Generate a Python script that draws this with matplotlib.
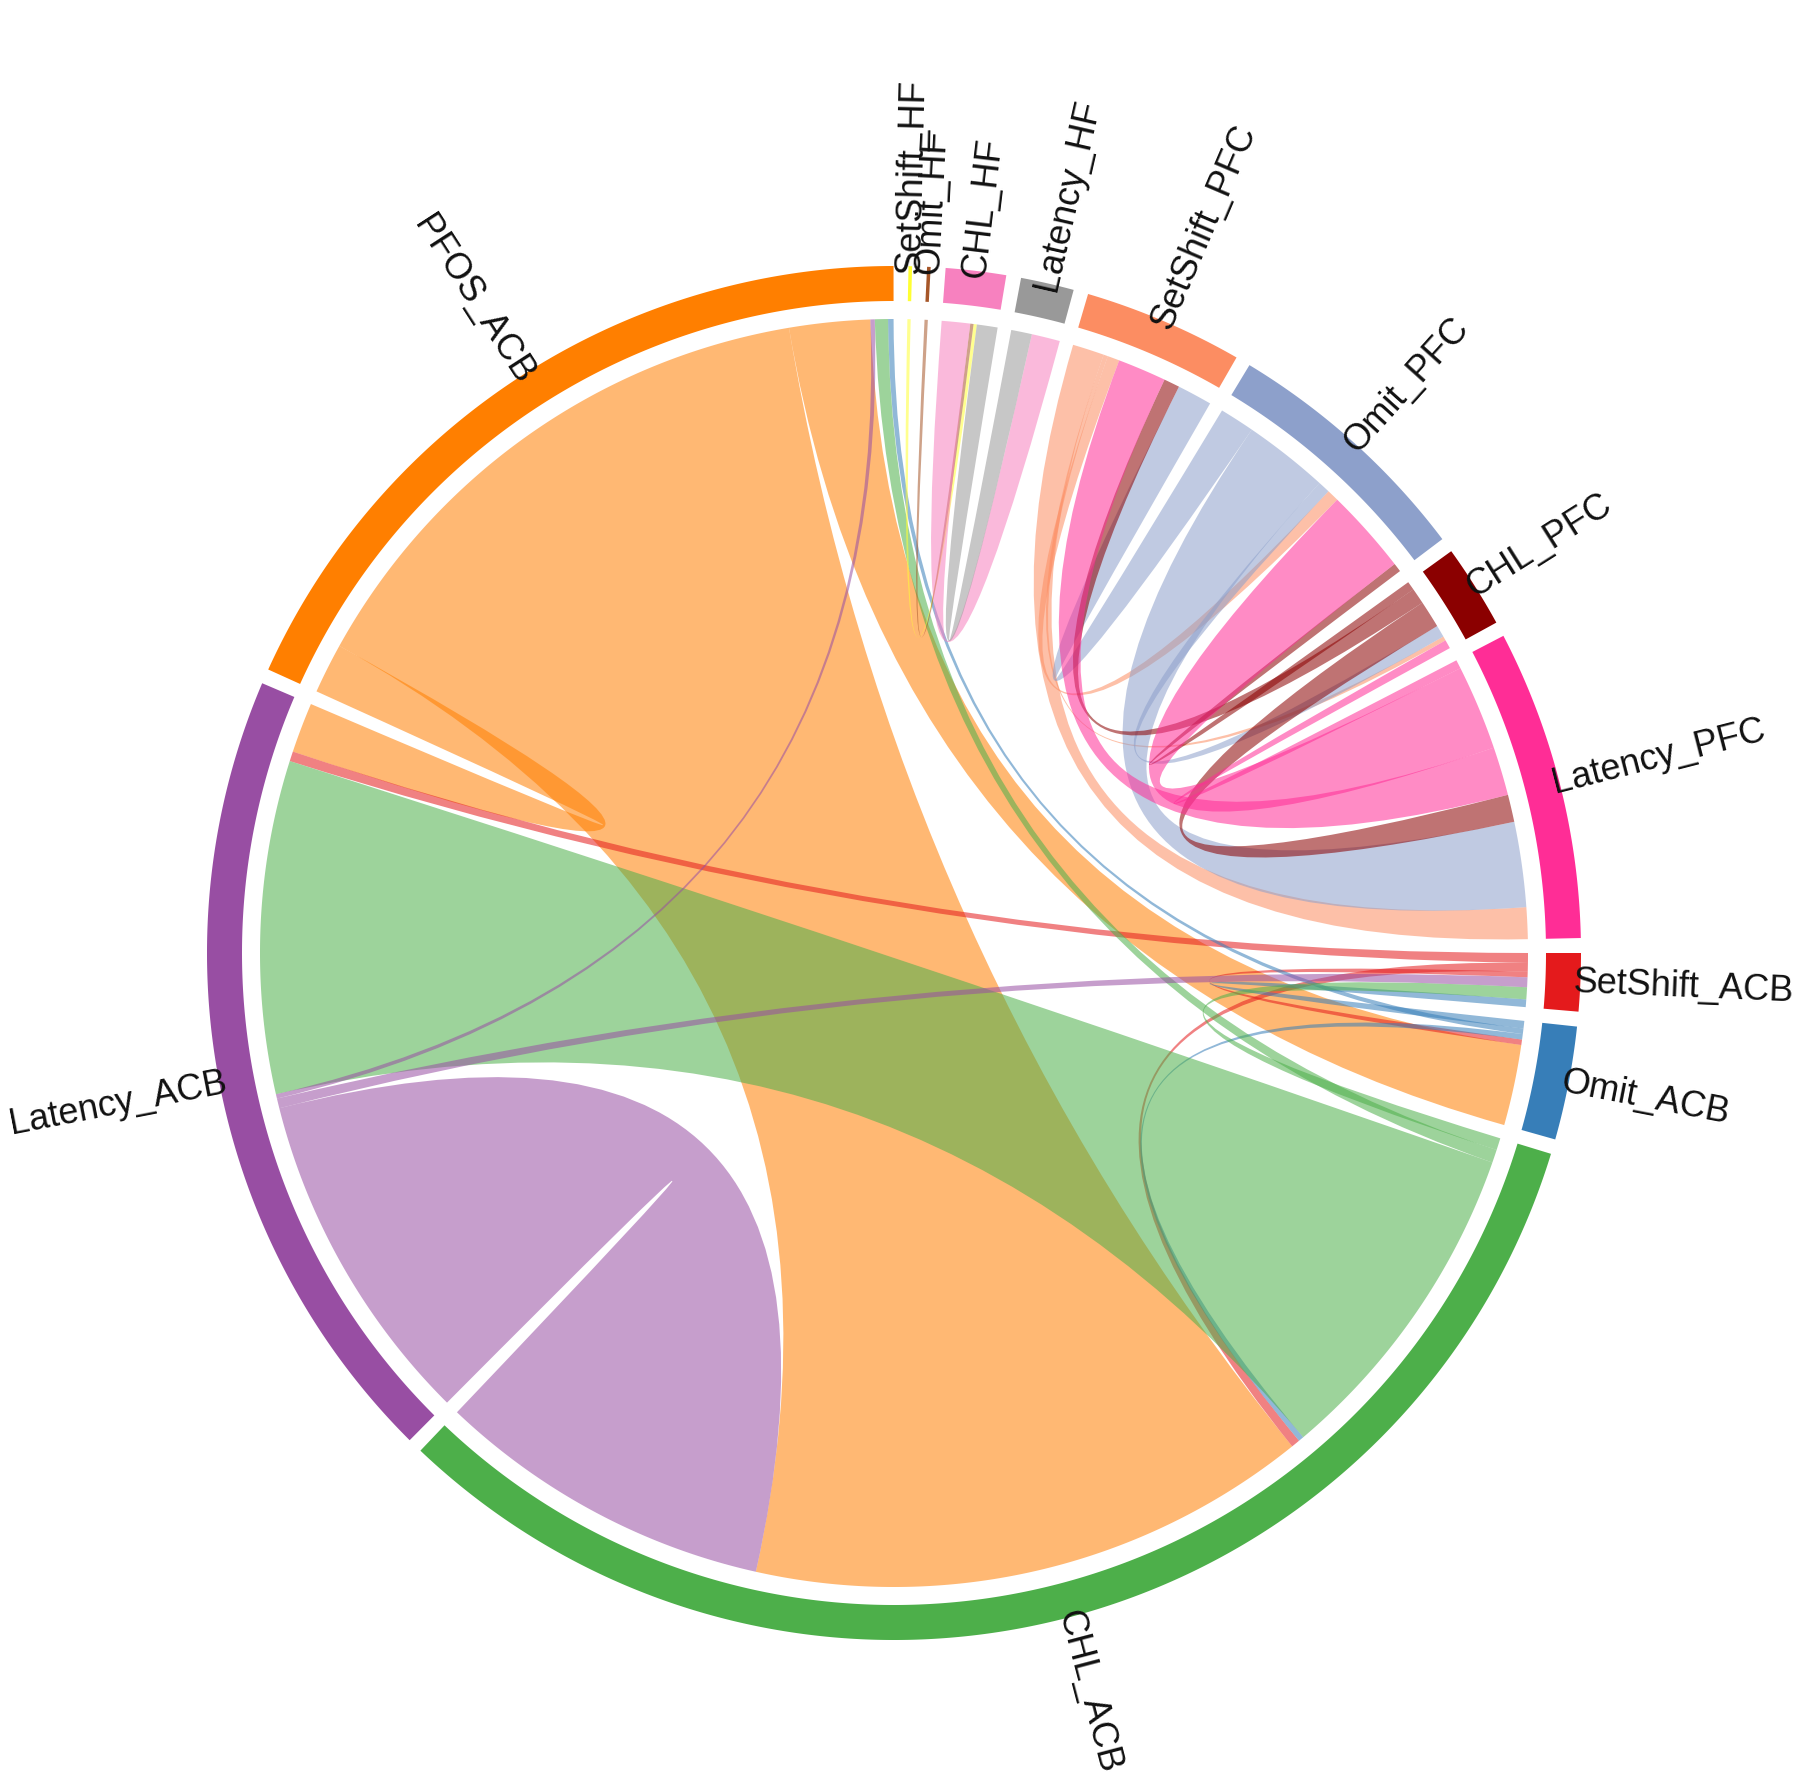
import numpy as np
import matplotlib.pyplot as plt
from matplotlib.path import Path
from matplotlib.patches import PathPatch, Polygon

# sectors in clockwise order, starting at 3 o'clock
sectors = ["SetShift_ACB", "Omit_ACB", "CHL_ACB", "Latency_ACB", "PFOS_ACB",
           "SetShift_HF", "Omit_HF", "CHL_HF", "Latency_HF",
           "SetShift_PFC", "Omit_PFC", "CHL_PFC", "Latency_PFC"]
sectorColors = ["#e41a1c", "#377eb8", "#4daf4a", "#984ea3", "#ff7f00",
                "#ffff33", "#a65628", "#f781bf", "#999999",
                "#fc8d62", "#8da0cb", "#8b0000", "#ff2d96"]

# links (from -> to), drawn in this order
linkFrom = ["PFOS_ACB", "PFOS_ACB", "PFOS_ACB",
            "SetShift_ACB", "SetShift_ACB", "SetShift_ACB",
            "Omit_ACB", "Omit_ACB", "Omit_ACB",
            "CHL_ACB", "CHL_ACB", "CHL_ACB",
            "Latency_ACB", "Latency_ACB", "Latency_ACB",
            "SetShift_HF", "Omit_HF", "CHL_HF", "Latency_HF",
            "SetShift_PFC", "SetShift_PFC", "SetShift_PFC",
            "Omit_PFC", "Omit_PFC", "Omit_PFC",
            "CHL_PFC", "CHL_PFC", "CHL_PFC",
            "Latency_PFC", "Latency_PFC", "Latency_PFC"]
linkTo = ["Latency_ACB", "CHL_ACB", "Omit_ACB",
          "Latency_ACB", "CHL_ACB", "Omit_ACB",
          "SetShift_ACB", "PFOS_ACB", "CHL_ACB",
          "SetShift_ACB", "PFOS_ACB", "Latency_ACB",
          "CHL_ACB", "SetShift_ACB", "PFOS_ACB",
          "CHL_HF", "CHL_HF", "Latency_HF", "CHL_HF",
          "Latency_PFC", "CHL_PFC", "Omit_PFC",
          "SetShift_PFC", "Latency_PFC", "CHL_PFC",
          "Omit_PFC", "SetShift_PFC", "Latency_PFC",
          "CHL_PFC", "Omit_PFC", "SetShift_PFC"]
linkValue = [4.6, 51.5, 7.4,
             0.9, 0.8, 0.5,
             0.7, 0.5, 0.5,
             1.1, 1.2, 30.5,
             31.0, 0.9, 0.4,
             0.3, 0.3, 2.6, 1.9,
             2.9, 0.4, 1.1,
             3.2, 7.8, 1.1,
             0.8, 1.45, 2.5,
             0.8, 7.8, 4.45]

# layout (pixels of the output image)
cx, cy = 894, 953
rLink, rIn, rOut, rLabel = 634, 652, 687, 680
gap = 1.25
startAngle = 90.0
alpha = 0.55

n = len(sectors)
idx = {s: i for i, s in enumerate(sectors)}


def pt(theta, r):
    a = np.radians(theta)
    return cx + r * np.sin(a), cy - r * np.cos(a)


def arcPoints(t1, t2, r):
    m = max(2, int(abs(t2 - t1) * 4) + 2)
    return [pt(t, r) for t in np.linspace(t1, t2, m)]


# place the link ends inside each sector: outgoing first, then incoming,
# each sorted by how far round (clockwise) the other sector is
outEnds = {i: [] for i in range(n)}
inEnds = {i: [] for i in range(n)}
for k in range(len(linkValue)):
    s, t = idx[linkFrom[k]], idx[linkTo[k]]
    outEnds[s].append(((t - s) % n, k))
    inEnds[t].append(((s - t) % n, k))

total = sum(linkValue) * 2
unit = (360 - n * gap) / total

srcSpan, tgtSpan = {}, {}
secStart, secEnd = [], []
pos = startAngle
for i in range(n):
    secStart.append(pos)
    for off, k in sorted(outEnds[i], reverse=True):
        srcSpan[k] = (pos, pos + linkValue[k] * unit)
        pos += linkValue[k] * unit
    for off, k in sorted(inEnds[i], reverse=True):
        tgtSpan[k] = (pos, pos + linkValue[k] * unit)
        pos += linkValue[k] * unit
    secEnd.append(pos)
    pos += gap

fig = plt.figure(figsize=(18, 17.85), dpi=100)
ax = fig.add_axes([0, 0, 1, 1])
ax.set_xlim(0, 1800)
ax.set_ylim(1785, 0)
ax.axis("off")

# links
for k in range(len(linkValue)):
    a1, a2 = srcSpan[k]
    b1, b2 = tgtSpan[k]
    verts, codes = [], []
    arcA = arcPoints(a1, a2, rLink)
    verts += arcA
    codes += [Path.MOVETO] + [Path.LINETO] * (len(arcA) - 1)
    verts += [(cx, cy), pt(b1, rLink)]
    codes += [Path.CURVE3, Path.CURVE3]
    arcB = arcPoints(b1, b2, rLink)[1:]
    verts += arcB
    codes += [Path.LINETO] * len(arcB)
    verts += [(cx, cy), pt(a1, rLink)]
    codes += [Path.CURVE3, Path.CURVE3]
    verts.append(pt(a1, rLink))
    codes.append(Path.CLOSEPOLY)
    col = sectorColors[idx[linkFrom[k]]]
    ax.add_patch(PathPatch(Path(verts, codes), facecolor=col, edgecolor="none",
                           alpha=alpha))

# outer track
for i in range(n):
    outer = arcPoints(secStart[i], secEnd[i], rOut)
    inner = arcPoints(secStart[i], secEnd[i], rIn)[::-1]
    ax.add_patch(Polygon(outer + inner, closed=True, facecolor=sectorColors[i],
                         edgecolor="none"))

# labels, radial, turned so they never read upside down
for i in range(n):
    mid = (secStart[i] + secEnd[i]) / 2
    x, y = pt(mid, rLabel)
    if (mid % 360) < 180:
        rot, ha = 90 - mid, "left"
    else:
        rot, ha = 270 - mid, "right"
    ax.text(x, y, sectors[i], rotation=rot, rotation_mode="anchor", ha=ha,
            va="center", fontsize=26, family=["Liberation Sans", "DejaVu Sans"],
            color="#111111")

fig.savefig("out.png", dpi=100)
